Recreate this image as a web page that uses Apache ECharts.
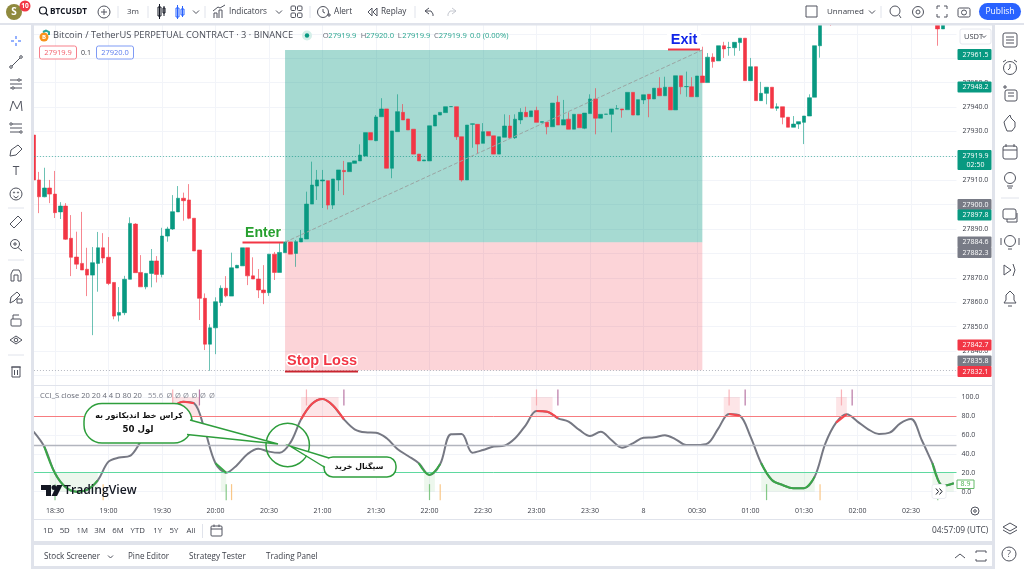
<!DOCTYPE html>
<html lang="en">
<head>
    <meta charset="UTF-8">
    <title>BTCUSDT 3m CCI_S</title>
    <style>
        html, body { margin: 0; padding: 0; background: #fff; }
        #main { width: 1024px; height: 569px; }
    </style>
</head>
<body>
<div id="main"></div>
<script src="https://cdn.jsdelivr.net/npm/echarts@6/dist/echarts.min.js"></script>
<script>
    // bars run 18:18 -> 02:54, one every 3 minutes
    const categories = [];
    for (let i = 0; i < 173; i++) {
        const m = (18 * 60 + 18 + i * 3) % 1440;
        categories.push(String(Math.floor(m / 60)).padStart(2, '0') + ':' + String(m % 60).padStart(2, '0'));
    }

    const opens = [27928.5,27910.1,27903.2,27906.8,27904.3,27897,27899.4,27886.2,27878.5,27875.9,27873.5,27871.1,27875.9,27882.3,27878.4,27868.1,27854.7,27855.7,27869.4,27892,27872.2,27866.3,27871.8,27876.9,27871.4,27887.1,27890,27897,27902.6,27901.9,27894.4,27881.4,27861.6,27842.8,27849.5,27859.9,27865.7,27862.5,27874,27874.9,27882.3,27870.8,27869.5,27865,27863.9,27879.7,27872.2,27880.3,27884.7,27880,27884.7,27885.9,27900.2,27907.6,27909.7,27909.8,27899.8,27910.1,27914,27913.5,27916.9,27917.9,27919.9,27929.5,27926.2,27936,27939.2,27914.9,27929.9,27937.8,27935.1,27930.9,27920.7,27917.9,27917.9,27932.2,27936.7,27937.7,27940.1,27940.1,27927.8,27910.1,27932.9,27932.9,27925.1,27929.9,27928.2,27920.7,27927.6,27932.2,27927.4,27934.7,27937.8,27936,27938.6,27933.7,27933.7,27931.9,27941.9,27932.6,27935,27930.9,27937,27931.3,27937.3,27943.3,27935.4,27937,27937,27939.2,27939.2,27938.9,27946,27936.7,27942.9,27945.2,27943.3,27947.7,27944.6,27948.1,27938.8,27952.8,27948.3,27948.3,27944.2,27952.7,27950,27960.4,27958.9,27965.1,27964.3,27964.3,27966.4,27968.2,27950.8,27956.5,27942.6,27945.6,27948.1,27939.5,27940.1,27935.8,27931.7,27933,27933.7,27936.3,27944,27965.1,27985,27985,null,null,null,null,null,null,null,null,null,null,null,null,null,null,null,null,null,null,null,27976,27972,null,null];
    const closes = [27910.1,27903.2,27906.8,27904.3,27896.7,27899.4,27885.8,27878.4,27875.6,27873.2,27871.1,27876.2,27882.3,27878.1,27867.7,27854.3,27855.8,27869.4,27892.3,27872.1,27866.3,27871.8,27876.9,27871.4,27887.1,27890,27897.1,27902.6,27901.6,27894.4,27881,27861.6,27842.8,27849.5,27860.2,27865.7,27862.6,27874.1,27875.1,27882.3,27870.8,27869.5,27865,27863.9,27879.7,27872.2,27880.4,27884.7,27879.7,27884.8,27886.2,27900.2,27908,27910.1,27910.1,27899.8,27910.5,27914.2,27913.5,27917.2,27917.9,27920.3,27929.5,27926.5,27935.9,27939.2,27914.9,27930.2,27938.1,27934.7,27930.6,27920.7,27917.9,27918.3,27932.3,27936.7,27937.8,27940.1,27940.2,27927.8,27910.1,27932.6,27933.1,27924.8,27929.9,27928.2,27920.7,27927.8,27932.2,27927.4,27935,27937.8,27936,27938.4,27933.7,27934,27931.9,27941.6,27932.6,27934.8,27930.9,27937,27931.5,27937.5,27943.3,27935.4,27937,27937.1,27939.2,27939.3,27938.8,27946,27936.7,27943,27945,27943.3,27947.7,27944.6,27948.1,27938.8,27952.8,27948.3,27948.4,27944.2,27952.7,27950,27960.4,27958.6,27965.1,27963.8,27964.4,27966.5,27968.2,27950.8,27956.5,27942.6,27945.6,27948.1,27939.5,27940.1,27935.8,27931.7,27933,27934,27936.3,27943.8,27965.1,27985,27990,27980,null,null,null,null,null,null,null,null,null,null,null,null,null,null,null,null,null,null,null,27972,27976,null,null];
    const highs = [27929,27913.4,27915.1,27910.1,27913.8,27901,27900.6,27895.7,27888.9,27897,27882.3,27882.6,27888.8,27888.3,27886.7,27868.2,27866.2,27870.8,27894.8,27892.4,27879.3,27872,27881.8,27878.9,27890.5,27890.9,27903.9,27907.6,27904.9,27908.4,27894.4,27881.4,27863.6,27851,27862,27866.9,27870.7,27880.3,27875.3,27882.3,27882.3,27878.4,27873.6,27875.2,27879.7,27880.6,27884.2,27884.7,27884.7,27885.5,27889.6,27905.3,27917.6,27914.2,27914.2,27909.8,27910.5,27914.2,27917.9,27917.2,27917.9,27924.7,27929.5,27929.5,27936.7,27943.6,27939.2,27930.2,27945.2,27941.2,27935.1,27930.9,27920.7,27918.3,27932.3,27936.7,27937.8,27940.1,27940.2,27940.1,27927.8,27932.6,27933.2,27933,27933.4,27929.9,27928.2,27927.8,27937,27936.7,27937,27939.5,27940.1,27938.4,27940.1,27934,27933.7,27941.6,27944.6,27942.9,27937.8,27937,27937,27937.5,27945.2,27947.7,27937,27937.1,27939.2,27940.8,27939.2,27946,27946,27943,27945,27945.2,27947.7,27952.2,27952.4,27948.1,27952.8,27952.8,27954.5,27952.2,27952.7,27964.7,27962.1,27962,27965.1,27966.7,27966.7,27966.5,27968.2,27968.2,27960.1,27956.5,27950.3,27948.1,27948.1,27941.5,27940.1,27935.8,27936.3,27934,27936.3,27945.2,27965.1,27987,27990,27990,null,null,null,null,null,null,null,null,null,null,null,null,null,null,null,null,null,null,null,27977,27977,null,null];
    const lows = [27909,27896.5,27903,27900.6,27894.5,27894.1,27885.5,27870.7,27873.6,27873.2,27862.5,27846.5,27864.3,27876,27867,27853,27852.1,27854.7,27869.4,27872.1,27866.3,27865.3,27866.1,27868.1,27870.2,27884.8,27889.6,27897,27893.4,27894,27881,27852.7,27840.4,27831.9,27838.7,27858.4,27862,27862.5,27874,27874.9,27867,27869.5,27861.7,27859.2,27862.6,27869.1,27872.2,27880.3,27879.7,27874.5,27884.7,27885.9,27900.2,27901.9,27898.6,27898,27898.2,27905.6,27903.9,27913.5,27916.9,27917.9,27919.9,27926.5,27926,27936,27914.9,27910.8,27929.9,27934.7,27930.6,27920.7,27917.9,27917.9,27917.9,27932.2,27936.7,27937.7,27940.1,27926.5,27909.4,27910.1,27923.3,27920.7,27925.1,27928.2,27920.7,27920.7,27927.6,27926.9,27926.9,27933,27936,27936,27933.7,27933.7,27928.8,27931.9,27932.6,27932.6,27930.9,27930.9,27931.5,27930.9,27937.3,27928.8,27935.4,27937,27929.6,27939.2,27935.6,27938.9,27936.7,27936.7,27941.2,27935.8,27943.3,27944.6,27944.6,27938.8,27938.8,27945.2,27944.2,27944.2,27944.2,27950,27950,27956.1,27958.9,27960.1,27961,27961,27963,27950.8,27950.8,27942.6,27942.6,27941.1,27939.5,27938.4,27932.9,27931.7,27931.7,27931,27924.8,27936.3,27944,27960.2,27984,27973.2,null,null,null,null,null,null,null,null,null,null,null,null,null,null,null,null,null,null,null,27965.1,27972,null,null];

    // one reading every second bar
    const cciValues = [63.4,47.5,19.4,4.6,0,1.8,12,31.7,36,37.7,52.8,70.4,81,89.8,95,93.3,65,30,20,28,39.8,45.4,42.3,41,51.8,76.4,92.6,97.9,90.8,76.4,65.9,62.7,62.3,56.4,45.1,37.7,30,17.6,29.2,60.6,61,41.2,44,47.6,48.6,56.4,70.4,85.2,84.5,77.5,74,65.2,58.8,63.4,54.6,46.5,51,57,57.4,59.5,55.3,49.3,49.3,51,66.9,82,80.3,58.1,30,12.3,7,3.6,3.6,15.9,51,72.9,81.7,74,65.9,61,62.3,72.2,76.8,54.6,30,6,8.9];
    const cciRedSpans = [[26, 30], [50, 58], [94, 98], [130, 132], [150, 152]];
    const cciGreenSpans = [[2, 12], [34, 36], [72, 76], [136, 146], [168, 172]];
    const redZones = [[26, 31], [50, 57], [93, 97], [129, 132], [150, 152]];
    const greenZones = [[3, 12], [35, 36], [73, 75], [136, 146], [168, 172]];
    const redTicks = [26, 51, 94, 130, 151];
    const purpleTicks = [31, 58, 98, 133, 153];
    const greenTicks = [4, 36, 74, 137, 169];
    const orangeTicks = [13, 37, 76, 147];

    const priceTicks = [27830,27840,27850,27860,27870,27880,27890,27900,27910,27920,27930,27940,27950,27960,27970];
    const cciTicks = [0, 20, 40, 60, 80, 100];
    const entryPrice = 27884.6, targetPrice = 27963.4, stopPrice = 27832.1, lastPrice = 27919.9;

    const UP = '#089981', DOWN = '#f23645', GRID = '#f2f4f9', INK = '#3d404a', FONT = '"Open Sans"';

    const isTimeTick = i => i % 10 === 4;
    const cciPoints = cciValues.map((v, k) => [categories[k * 2], v]);
    const spanPoints = spans => cciValues
        .map((v, k) => [k * 2, v])
        .filter(p => spans.some(s => p[0] >= s[0] && p[0] <= s[1]))
        .map(p => [categories[p[0]], p[1]]);
    // one series per span so the overlays do not join
    const spanSeries = (name, spans, color) => spans.map(s => ({
        name: name, type: 'line', xAxisIndex: 1, yAxisIndex: 1, data: spanPoints([s]), smooth: 0.35,
        showSymbol: false, z: 5, lineStyle: {color: color, width: 2}
    }));
    const zones = (list, y0, y1, color) => ({
        silent: true, itemStyle: {color: color},
        data: list.map(z => [{xAxis: categories[z[0]], yAxis: y0}, {xAxis: categories[z[1]], yAxis: y1}])
    });
    const tickSeries = (list, y, color) => ({
        type: 'scatter', xAxisIndex: 1, yAxisIndex: 1, symbol: 'rect', symbolSize: [1.2, 16], z: 4, silent: true,
        itemStyle: {color: color}, data: list.map(i => [categories[i], y])
    });

    // ---- page furniture (toolbars, tags, callouts) ----
    const els = [];
    const R = (x, y, w, h, fill) => els.push({type: 'rect', silent: true, z: 100, shape: {x, y, width: w, height: h}, style: {fill: fill}});
    const T = (s, x, y, o) => { o = o || {}; els.push({type: 'text', silent: true, z: o.z || 102, x, y, style: {text: s, fill: o.c || INK,
        font: (o.w || 'normal') + ' ' + (o.s || 8) + 'px ' + (o.f || FONT), textAlign: o.a || 'left', textVerticalAlign: 'middle',
        stroke: o.halo || null, lineWidth: o.halo ? 3 : 0}}); };
    const L = (x1, y1, x2, y2, c, w) => els.push({type: 'line', silent: true, z: 102, shape: {x1, y1, x2, y2}, style: {stroke: c || '#50535e', lineWidth: w || 1}});
    const P = (pts, c, w) => els.push({type: 'polyline', silent: true, z: 102, shape: {points: pts}, style: {stroke: c || '#50535e', lineWidth: w || 1, fill: null}});
    const C = (x, y, r, c, fill, w) => els.push({type: 'circle', silent: true, z: 102, shape: {cx: x, cy: y, r}, style: {stroke: c === undefined ? '#50535e' : c, fill: fill || null, lineWidth: w || 1}});
    const B = (x, y, w, h, c, fill, r, lw) => els.push({type: 'rect', silent: true, z: 102, shape: {x, y, width: w, height: h, r: r || 0}, style: {stroke: c || null, fill: fill || null, lineWidth: lw || 1}});

    // panels and bands
    R(0, 0, 1024, 23, '#fff'); R(0, 23, 1024, 2.5, '#e0e3eb');
    R(0, 25, 31, 544, '#fff'); R(31, 23, 3, 546, '#e0e3eb');
    R(992, 25, 3, 544, '#e0e3eb'); R(995, 25, 29, 544, '#fff');
    R(34, 385, 958, 1, '#e0e3eb');
    R(34, 519, 958, 1, '#e0e3eb'); R(34, 520, 958, 21, '#fff');
    R(31, 541, 964, 4, '#e0e3eb'); R(34, 545, 958, 21, '#fff'); R(31, 566, 964, 3, '#e0e3eb');

    // top bar, left part
    C(14, 12, 8, null, '#8f8a3e'); T('S', 14, 12.5, {c: '#fff', w: 'bold', s: 10, a: 'center'});
    C(25, 6, 5.5, null, '#f23645'); T('10', 25, 6, {c: '#fff', s: 6.5, a: 'center', w: 'bold'});
    C(43, 10.5, 3.5, '#131722', null, 1.2); L(45.5, 13, 48, 15.5, '#131722', 1.2);
    T('BTCUSDT', 50, 12, {c: '#131722', w: 'bold', s: 8.2});
    C(104, 12, 6); L(101, 12, 107, 12); L(104, 9, 104, 15);
    L(118, 6, 118, 18, '#e0e3eb'); T('3m', 133, 12, {a: 'center'}); L(148, 6, 148, 18, '#e0e3eb');
    B(158, 7, 3, 9, '#131722'); L(159.5, 4, 159.5, 19, '#131722'); B(163, 8, 2, 5, '#131722'); L(164, 6, 164, 16, '#131722');
    B(176, 8, 3, 9, '#2962ff'); L(177.5, 5, 177.5, 19, '#2962ff'); B(181, 9, 3, 6, '#2962ff'); L(182.5, 6, 182.5, 17, '#2962ff');
    P([[193, 10.5], [196, 13.5], [199, 10.5]]); L(205, 6, 205, 18, '#e0e3eb');
    P([[214, 18], [214, 13], [217, 13], [217, 18]]); P([[219, 18], [219, 10], [222, 10], [222, 18]]); P([[213, 11], [218, 7], [220, 8], [225, 5]]);
    T('Indicators', 229, 12, {s: 8.2}); P([[276, 10.5], [279, 13.5], [282, 10.5]]);
    B(291, 6, 4.5, 4.5, '#50535e', null, 1); B(297.5, 6, 4.5, 4.5, '#50535e', null, 1); B(291, 13, 4.5, 4.5, '#50535e', null, 1); B(297.5, 13, 4.5, 4.5, '#50535e', null, 1);
    L(310, 6, 310, 18, '#e0e3eb');
    C(323, 12, 5.5); P([[323, 9], [323, 12], [325, 13]]); L(327, 15, 331, 15); L(329, 13, 329, 17);
    T('Alert', 334, 12, {s: 8.2}); P([[372, 8], [368, 12], [372, 16], [372, 8]]); P([[377, 8], [373, 12], [377, 16], [377, 8]]);
    T('Replay', 381, 12, {s: 8.2}); L(415, 6, 415, 18, '#e0e3eb');
    P([[429, 8], [425, 11], [429, 14]]); P([[425, 11], [431, 11], [433, 14], [433, 16]]);
    P([[452, 8], [456, 11], [452, 14]], '#c5c8d0'); P([[456, 11], [450, 11], [448, 14], [448, 16]], '#c5c8d0');

    // top bar, right part
    B(806, 6, 11, 11, '#50535e'); T('Unnamed', 827, 12, {s: 8}); P([[869, 10.5], [872, 13.5], [875, 10.5]]); L(881, 6, 881, 18, '#e0e3eb');
    C(895, 11, 5); L(899, 15, 901, 18); C(918, 12, 5.5); C(918, 12, 2);
    P([[937, 9], [937, 6], [940, 6]]); P([[944, 6], [947, 6], [947, 9]]); P([[947, 14], [947, 17], [944, 17]]); P([[940, 17], [937, 17], [937, 14]]);
    B(958, 8, 12, 9, '#50535e', null, 1.5); C(964, 12.5, 2.5);
    B(979, 3, 42, 17, null, '#2962ff', 8.5); T('Publish', 1000, 12, {c: '#fff', a: 'center', s: 8.5});

    // left toolbar
    const lx = 16;
    L(lx, 36, lx, 39, '#2962ff'); L(lx, 43, lx, 46, '#2962ff'); L(lx - 5, 41, lx - 2, 41, '#2962ff'); L(lx + 2, 41, lx + 5, 41, '#2962ff');
    L(lx - 5, 67, lx + 5, 57); C(lx - 5, 67, 1.3, '#50535e', '#fff'); C(lx + 5, 57, 1.3, '#50535e', '#fff');
    L(lx - 6, 80, lx + 6, 80); L(lx - 6, 84, lx + 6, 84); L(lx - 6, 88, lx + 6, 88); C(lx + 3, 80, 1.2, '#50535e', '#fff'); C(lx - 3, 88, 1.2, '#50535e', '#fff');
    P([[lx - 6, 111], [lx - 3, 101], [lx + 1, 109], [lx + 5, 101], [lx + 6, 111]]);
    L(lx - 6, 124, lx + 6, 124); L(lx - 6, 128, lx + 6, 128); L(lx - 6, 132, lx + 6, 132); C(lx - 5, 124, 1.2, '#50535e', '#fff'); C(lx + 5, 132, 1.2, '#50535e', '#fff');
    P([[lx - 6, 156], [lx - 5, 150], [lx + 2, 145], [lx + 6, 149], [lx, 155], [lx - 6, 156]]);
    T('T', lx, 172, {a: 'center', s: 12, c: '#50535e'});
    C(lx, 194, 6); C(lx - 2, 192.5, 0.6); C(lx + 2, 192.5, 0.6); P([[lx - 2.5, 196], [lx, 198], [lx + 2.5, 196]]);
    L(8, 208, 24, 208, '#e0e3eb');
    P([[lx - 6, 224], [lx + 2, 216], [lx + 6, 220], [lx - 2, 228], [lx - 6, 224]]);
    C(lx - 1, 244, 4.5); L(lx + 2, 247.5, lx + 6, 251); L(lx - 3, 244, lx + 1, 244); L(lx - 1, 242, lx - 1, 246);
    L(8, 260, 24, 260, '#e0e3eb');
    P([[lx - 5, 281], [lx - 5, 274], [lx - 3, 270], [lx + 3, 270], [lx + 5, 274], [lx + 5, 281], [lx + 2, 281], [lx + 2, 275], [lx - 2, 275], [lx - 2, 281], [lx - 5, 281]]);
    P([[lx - 6, 303], [lx - 5, 297], [lx + 1, 292], [lx + 4, 295], [lx - 2, 301], [lx - 6, 303]]); B(lx + 1, 299, 5, 4, '#50535e');
    B(lx - 5, 319, 10, 7, '#50535e', null, 1); P([[lx - 3, 319], [lx - 3, 315], [lx + 3, 315]]);
    P([[lx - 6, 340], [lx, 336], [lx + 6, 340], [lx, 344], [lx - 6, 340]]); C(lx, 340, 1.8);
    L(8, 355, 24, 355, '#e0e3eb');
    L(lx - 5, 367, lx + 5, 367); B(lx - 4, 367, 8, 10, '#50535e'); L(lx - 1.5, 370, lx - 1.5, 375); L(lx + 1.5, 370, lx + 1.5, 375);

    // right toolbar
    const rx = 1010;
    B(rx - 7, 33, 14, 14, '#50535e', null, 2); L(rx - 4, 37, rx + 4, 37); L(rx - 4, 40, rx + 4, 40); L(rx - 4, 43, rx + 4, 43);
    C(rx, 68, 6.5); P([[rx, 64], [rx, 68], [rx - 2, 70]]); L(rx - 7, 62, rx - 4, 60); L(rx + 4, 60, rx + 7, 62);
    B(rx - 5, 90, 12, 11, '#50535e', null, 2); L(rx - 2, 93, rx + 4, 93); L(rx - 2, 96, rx + 4, 96); L(rx - 7, 87, rx - 3, 87); L(rx - 5, 85, rx - 5, 89);
    P([[rx - 5, 126], [rx - 6, 122], [rx - 2, 117], [rx, 115], [rx + 1, 118], [rx + 5, 122], [rx + 5, 127], [rx + 2, 131], [rx - 3, 131], [rx - 5, 126]]);
    B(rx - 7, 146, 14, 13, '#50535e', null, 2); L(rx - 7, 150, rx + 7, 150); L(rx - 4, 144, rx - 4, 147); L(rx + 4, 144, rx + 4, 147);
    C(rx, 178, 5.5); L(rx - 3, 186, rx + 3, 186); L(rx - 2, 188, rx + 2, 188);
    L(rx - 9, 198, rx + 9, 198, '#e0e3eb');
    B(rx - 7, 209, 13, 10, '#50535e', null, 2); P([[rx - 3, 219], [rx - 3, 222], [rx + 7, 222], [rx + 7, 213]]);
    C(rx, 241, 5.5); L(rx - 2, 249, rx + 2, 249); L(rx - 9, 238, rx - 9, 245); L(rx + 9, 238, rx + 9, 245);
    P([[rx - 6, 265], [rx + 1, 270], [rx - 6, 275], [rx - 6, 265]]); P([[rx + 3, 264], [rx + 5, 270], [rx + 3, 276]]);
    P([[rx - 6, 303], [rx - 4, 300], [rx - 4, 295], [rx, 291], [rx + 4, 295], [rx + 4, 300], [rx + 6, 303], [rx - 6, 303]]); L(rx - 2, 306, rx + 2, 306);
    P([[rx - 7, 527], [rx, 523], [rx + 7, 527], [rx, 531], [rx - 7, 527]]); P([[rx - 7, 530], [rx, 534], [rx + 7, 530]]);
    C(rx - 1, 554, 7); T('?', rx - 1, 554, {a: 'center', s: 9, c: '#50535e'});

    // chart legend
    C(44, 37, 4.5, null, '#f7931a'); T('B', 44, 37, {c: '#fff', s: 6, a: 'center', w: 'bold'});
    P([[43, 32], [46, 30.5], [49, 32], [49, 35]], '#26a69a', 2);
    T('Bitcoin / TetherUS PERPETUAL CONTRACT · 3 · BINANCE', 53, 35.5, {c: '#4a4d57', s: 9.3});
    C(307, 35.5, 5, null, '#d5efe9'); C(307, 35.5, 2.2, null, UP);
    const ohlc = [['O', '27919.9', 322.7, 328.3], ['H', '27920.0', 360.7, 366], ['L', '27919.9', 397.7, 402.3], ['C', '27919.9', 434, 438.7]];
    ohlc.forEach(o => { T(o[0], o[2], 35.5, {s: 7.6, c: '#6a6d78'}); T(o[1], o[3], 35.5, {s: 7.6, c: '#2aa58f'}); });
    T('0.0 (0.00%)', 470, 35.5, {s: 7.6, c: '#2aa58f'});
    B(39.5, 46, 37, 13, '#f7808b', '#fff', 2); T('27919.9', 58, 52.5, {c: '#f2606c', s: 7.5, a: 'center'});
    T('0.1', 86, 52.5, {s: 7, a: 'center'});
    B(96.5, 46, 37, 13, '#7f9bf5', '#fff', 2); T('27920.0', 115, 52.5, {c: '#5a7bee', s: 7.5, a: 'center'});

    // price tags
    B(960, 29, 31, 15, '#e6e8ef', '#fff', 2); T('USDT', 964, 36.5, {s: 7.5}); P([[982, 35.5], [984, 37.5], [986, 35.5]]);
    const tags = [['27961.5', UP, 54.5], ['27948.2', UP, 87], ['27900.0', '#787b86', 204.5], ['27897.8', UP, 215],
        ['27884.6', '#787b86', 242], ['27882.3', '#787b86', 252.5], ['27842.7', DOWN, 345], ['27835.8', '#787b86', 361], ['27832.1', DOWN, 371.5]];
    tags.forEach(t => { B(957.5, t[2] - 5.5, 34, 11, null, t[1], 1); T(t[0], 975.5, t[2], {c: '#fff', s: 7, a: 'center', z: 103}); });
    B(957.5, 150, 34, 20, null, UP, 1); T('27919.9', 975.5, 156, {c: '#fff', s: 7, a: 'center'}); T('02:50', 975.5, 165, {c: '#fff', s: 7, a: 'center'});

    // on-chart marks written by the author
    T('Enter', 263, 233, {c: '#27a02f', w: 'bold', s: 14, a: 'center', halo: '#fff', f: '"Liberation Sans"'});
    B(242.5, 241.5, 41, 2, null, '#f23645');
    B(667, 31, 34, 18, null, '#fff', 3); T('Exit', 684, 40, {c: '#1226e8', w: 'bold', s: 14.5, a: 'center', f: '"Liberation Sans"'});
    B(668, 48.5, 32, 2, null, '#f23645');
    T('Stop Loss', 322, 361, {c: '#f23645', w: 'bold', s: 14.5, a: 'center', halo: '#fff', f: '"Liberation Sans"'});
    B(285, 370.5, 73, 2, null, '#c9242f');

    // CCI legend
    T('CCI_S close 20 20 4 4 D 80 20', 40, 395.5, {s: 7.6, c: '#6a6d78'});
    T('55.6', 148, 395.5, {s: 7.6, c: '#8a8d98'});
    [169.5, 178, 186, 194.5, 203, 212].forEach(x => T('Ø', x, 395.5, {s: 7.6, c: '#8a8d98', a: 'center'}));

    // TradingView watermark
    els.push({type: 'polygon', silent: true, z: 102, shape: {points: [[41, 485], [51, 485], [51, 496], [46, 496], [46, 490], [41, 490]]}, style: {fill: '#131722'}});
    C(54, 487.5, 2.5, null, '#131722');
    els.push({type: 'polygon', silent: true, z: 102, shape: {points: [[57, 485], [62.5, 485], [57, 496], [51.5, 496]]}, style: {fill: '#131722'}});
    T('TradingView', 64, 490.5, {c: '#131722', w: '600', s: 12.2});

    // callouts
    const GREEN = '#2e9e3c';
    C(287.7, 445, 21.7, GREEN, null, 1.5);
    B(84, 403.5, 108, 39.5, GREEN, '#fff', 18, 1.5);
    els.push({type: 'polygon', silent: true, z: 102, shape: {points: [[189, 420], [278, 444], [186, 434.5]]}, style: {fill: '#fff'}});
    P([[190, 420], [278, 444], [187, 434.5]], GREEN, 1.4);
    B(324, 457, 72, 20, GREEN, '#fff', 9, 1.5);
    els.push({type: 'polygon', silent: true, z: 102, shape: {points: [[329, 458.5], [290, 446], [326, 467]]}, style: {fill: '#fff'}});
    P([[329, 458], [290, 446], [325, 467.5]], GREEN, 1.4);
    T('کراس خط اندیکاتور به', 139, 416, {s: 8, c: '#111', w: 'bold', a: 'center', f: '"DejaVu Sans"'});
    T('لول 50', 138, 430, {s: 8.6, c: '#111', w: 'bold', a: 'center', f: '"DejaVu Sans"'});
    T('سیگنال خرید', 359, 467, {s: 7.8, c: '#111', w: 'bold', a: 'center', f: '"DejaVu Sans"'});

    // cci end tag and scroll button
    B(957, 480, 17, 8.5, '#66bb6a', '#fff'); T('8.9', 965.5, 484.3, {c: '#4caf50', s: 7, a: 'center'});
    B(932, 484.5, 14, 14, '#eceef3', '#fff', 2); P([[936, 488.5], [938.5, 491.5], [936, 494.5]], '#131722'); P([[939.5, 488.5], [942, 491.5], [939.5, 494.5]], '#131722');
    C(975, 511, 4); C(975, 511, 1.3);

    // bottom bars
    [['1D', 48], ['5D', 64.7], ['1M', 82.3], ['3M', 100], ['6M', 118], ['YTD', 137.7], ['1Y', 157.7], ['5Y', 174], ['All', 191]]
        .forEach(r => T(r[0], r[1], 531, {s: 7.8, a: 'center'}));
    L(202.5, 524, 202.5, 538, '#e0e3eb');
    B(211, 526, 11, 10, '#50535e', null, 1); L(211, 529, 222, 529); L(214, 524.5, 214, 527); L(219, 524.5, 219, 527);
    T('04:57:09 (UTC)', 932, 531, {s: 8.4});
    T('Stock Screener', 44, 557, {s: 8.1}); P([[108, 555.5], [110.5, 558], [113, 555.5]]);
    T('Pine Editor', 128, 557, {s: 8.1}); T('Strategy Tester', 189, 557, {s: 8.1}); T('Trading Panel', 266, 557, {s: 8.1});
    P([[955, 558], [960, 554], [965, 558]]);
    P([[976, 553], [976, 551], [986, 551], [986, 553]]); P([[976, 559], [976, 561], [986, 561], [986, 559]]);

    const valueAxisBase = (ticks, min, max, gridIndex, fmt) => ({
        type: 'value', gridIndex: gridIndex, position: 'right', min: min, max: max, scale: true,
        axisLine: {show: false},
        axisTick: {show: false, customValues: ticks},
        splitLine: {show: true, lineStyle: {color: GRID, width: 1}},
        axisLabel: {customValues: ticks, formatter: fmt, color: '#3a3d47', fontSize: 7, fontFamily: FONT, margin: gridIndex ? 5 : 6, showMinLabel: true, showMaxLabel: true}
    });
    const timeAxisBase = gridIndex => ({
        type: 'category', gridIndex: gridIndex, data: categories,
        axisLine: {show: false}, axisTick: {show: false},
        splitLine: {show: true, interval: isTimeTick, alignWithLabel: true, lineStyle: {color: GRID, width: 1}},
        axisLabel: gridIndex ? {
            interval: isTimeTick, color: '#3a3d47', fontSize: 7, fontFamily: FONT, margin: 7,
            formatter: v => v === '00:00' ? '8' : v
        } : {show: false}
    });

    const chart = echarts.init(document.getElementById('main'), null, {renderer: 'canvas'});
    chart.setOption({
        animation: false,
        backgroundColor: '#fff',
        grid: [
            {left: 30.925, width: 925.55, top: 25, height: 360},
            {left: 30.925, width: 925.55, top: 386, height: 114}
        ],
        xAxis: [timeAxisBase(0), timeAxisBase(1)],
        yAxis: [
            valueAxisBase(priceTicks, 27826.07, 27973.6, 0, v => v.toFixed(1)),
            valueAxisBase(cciTicks, -8.8, 111.6, 1, v => v.toFixed(1))
        ],
        graphic: {elements: els},
        series: [
            {
                name: 'Position', type: 'line', xAxisIndex: 0, yAxisIndex: 0, data: [], z: 1,
                markArea: {
                    silent: true,
                    data: [
                        [{xAxis: categories[47], yAxis: entryPrice, itemStyle: {color: 'rgba(8,153,129,0.36)'}}, {xAxis: categories[125], yAxis: targetPrice}],
                        [{xAxis: categories[47], yAxis: entryPrice, itemStyle: {color: 'rgba(242,54,69,0.21)'}}, {xAxis: categories[125], yAxis: stopPrice}]
                    ]
                },
                markLine: {
                    silent: true, symbol: 'none', label: {show: false},
                    data: [
                        [{xAxis: categories[47], yAxis: entryPrice, lineStyle: {color: '#9aa5a3', type: 'dashed', width: 1}}, {xAxis: categories[125], yAxis: targetPrice}],
                        {yAxis: lastPrice, lineStyle: {color: UP, type: [1, 2], width: 1, opacity: 0.6}},
                        {yAxis: stopPrice, lineStyle: {color: '#b5b8c0', type: [1, 2], width: 1}}
                    ]
                }
            },
            {
                name: 'BTCUSDT', type: 'candlestick', xAxisIndex: 0, yAxisIndex: 0, z: 3, barWidth: 4, clip: true,
                itemStyle: {color: UP, color0: DOWN, borderColor: UP, borderColor0: DOWN, borderWidth: 0.6},
                data: opens.map((o, i) => o === null ? ['-', '-', '-', '-'] : [o, closes[i], lows[i], highs[i]])
            },
            {
                name: 'CCI', type: 'line', xAxisIndex: 1, yAxisIndex: 1, data: cciPoints, smooth: 0.35, showSymbol: false, z: 3,
                lineStyle: {color: '#767883', width: 2},
                markLine: {
                    silent: true, symbol: 'none', label: {show: false},
                    data: [
                        {yAxis: 80, lineStyle: {color: '#f77c80', type: 'solid', width: 1}},
                        {yAxis: 49.4, lineStyle: {color: '#b2b5be', type: 'solid', width: 1.4}},
                        {yAxis: 20, lineStyle: {color: '#5fd9a0', type: 'solid', width: 1}}
                    ]
                }
            },
            ...spanSeries('CCI high', cciRedSpans, '#f6474e'),
            ...spanSeries('CCI low', cciGreenSpans, '#3aa648'),
            {
                name: 'Overbought', type: 'line', xAxisIndex: 1, yAxisIndex: 1, data: [], z: 1,
                markArea: zones(redZones, 80, 100, 'rgba(242,54,69,0.13)')
            },
            {
                name: 'Oversold', type: 'line', xAxisIndex: 1, yAxisIndex: 1, data: [], z: 1,
                markArea: zones(greenZones, 0, 20, 'rgba(76,175,80,0.1)')
            },
            tickSeries(redTicks, 99.5, '#f7a0a8'),
            tickSeries(purpleTicks, 99.5, '#a8558f'),
            tickSeries(greenTicks, -0.5, '#66bb6a'),
            tickSeries(orangeTicks, -0.5, '#f7b96a')
        ]
    });
</script>
</body>
</html>
